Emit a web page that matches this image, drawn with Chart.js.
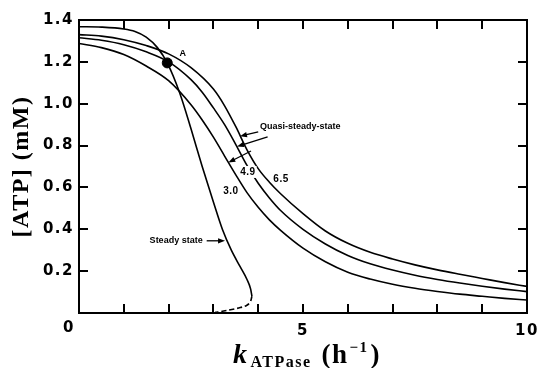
<!DOCTYPE html>
<html>
<head>
<meta charset="utf-8">
<script src="https://cdn.jsdelivr.net/npm/chart.js@4/dist/chart.umd.min.js"></script>
<style>
  html, body { margin: 0; padding: 0; background: #fff; overflow: hidden; }
  #wrap { width: 537px; height: 368px; position: relative; }
  canvas { display: block; }
</style>
</head>
<body>
<div id="wrap"><canvas id="c"></canvas></div>
<script>
// ATP concentration against ATPase rate constant
const kSteady = [0, 0.5, 1.0, 1.25, 1.5, 1.75, 1.97, 2.25, 2.5, 2.75, 3.0, 3.2, 3.4, 3.6, 3.75, 3.83, 3.86];
const atpSteady = [1.368, 1.366, 1.357, 1.345, 1.318, 1.268, 1.195, 1.05, 0.88, 0.70, 0.53, 0.40, 0.30, 0.22, 0.16, 0.115, 0.08];

// unstable branch of the steady state (dashed)
const kUnstable = [3.86, 3.82, 3.74, 3.6, 3.44, 3.2, 3.04];
const atpUnstable = [0.08, 0.052, 0.036, 0.026, 0.018, 0.008, 0.003];

const kQuasi65 = [0, 0.5, 1, 1.5, 2, 2.5, 3, 3.25, 3.5, 3.75, 4.0, 4.25, 4.5, 5, 5.5, 6, 6.5, 7, 7.5, 8, 8.5, 9, 9.5, 10];
const atpQuasi65 = [1.33, 1.323, 1.306, 1.278, 1.238, 1.172, 1.07, 0.99, 0.89, 0.78, 0.69, 0.625, 0.57, 0.475, 0.392, 0.333, 0.29, 0.258, 0.23, 0.206, 0.185, 0.165, 0.145, 0.127];

const kQuasi49 = [0, 0.5, 1, 1.5, 2, 2.5, 2.75, 3, 3.25, 3.5, 3.75, 4.0, 4.25, 4.5, 5, 5.5, 6, 6.5, 7, 7.5, 8, 8.5, 9, 9.5, 10];
const atpQuasi49 = [1.315, 1.303, 1.282, 1.248, 1.2, 1.115, 1.055, 0.98, 0.9, 0.805, 0.705, 0.62, 0.55, 0.49, 0.40, 0.33, 0.275, 0.235, 0.205, 0.18, 0.16, 0.143, 0.128, 0.114, 0.102];

const kQuasi30 = [0, 0.5, 1, 1.5, 2, 2.5, 2.75, 3, 3.25, 3.5, 3.75, 4.0, 4.25, 4.5, 5, 5.5, 6, 6.5, 7, 7.5, 8, 8.5, 9, 9.5, 10];
const atpQuasi30 = [1.288, 1.268, 1.235, 1.18, 1.11, 0.995, 0.922, 0.84, 0.75, 0.66, 0.575, 0.505, 0.445, 0.395, 0.31, 0.245, 0.195, 0.162, 0.137, 0.118, 0.103, 0.09, 0.08, 0.07, 0.062];

const pointA = { k: 1.97, atp: 1.195 };

const xLabelled = [5, 10];
const xStep = 1;
const yStep = 0.2;
const xMax = 10;
const yMax = 1.4;

const pts = (xs, ys) => xs.map((v, i) => ({ x: v, y: ys[i] }));

const curve = (data, opts) => Object.assign({
  data, showLine: true, borderColor: '#000', borderWidth: 1.6,
  pointRadius: 0, fill: false, cubicInterpolationMode: 'monotone'
}, opts || {});

const SANS = '"DejaVu Sans", sans-serif';
const NOTE = '"Liberation Sans", Arial, sans-serif';
const SERIF = '"Liberation Serif", serif';

function arrow(ctx, x1, y1, x2, y2) {
  const ang = Math.atan2(y2 - y1, x2 - x1);
  const len = 7, half = 2.6;
  ctx.beginPath();
  ctx.moveTo(x1, y1);
  ctx.lineTo(x2 - Math.cos(ang) * len * 0.8, y2 - Math.sin(ang) * len * 0.8);
  ctx.stroke();
  ctx.beginPath();
  ctx.moveTo(x2, y2);
  ctx.lineTo(x2 - Math.cos(ang) * len - Math.sin(ang) * half, y2 - Math.sin(ang) * len + Math.cos(ang) * half);
  ctx.lineTo(x2 - Math.cos(ang) * len + Math.sin(ang) * half, y2 - Math.sin(ang) * len - Math.cos(ang) * half);
  ctx.closePath();
  ctx.fill();
}

const spacing = {
  id: 'spacing',
  beforeDraw(chart) { chart.ctx.letterSpacing = '1.5px'; }
};

// frame with inward tick marks on all four sides
const frame = {
  id: 'frame',
  afterDraw(chart) {
    const ctx = chart.ctx;
    const a = chart.chartArea;
    const xs = chart.scales.x, ys = chart.scales.y;
    ctx.save();
    ctx.setLineDash([]);
    ctx.strokeStyle = '#000';
    ctx.lineWidth = 2;
    ctx.strokeRect(a.left, a.top, a.right - a.left, a.bottom - a.top);
    ctx.lineWidth = 2;
    ctx.lineCap = 'butt';
    const L = 9;
    const xv = [1, 2, 3, 4, 5, 6, 7, 8, 9];
    const yv = [0.2, 0.4, 0.6, 0.8, 1.0, 1.2];
    xv.forEach(v => {
      const px = Math.round(xs.getPixelForValue(v));
      ctx.beginPath();
      ctx.moveTo(px, a.bottom); ctx.lineTo(px, a.bottom - L);
      ctx.stroke();
      ctx.beginPath();
      ctx.moveTo(px, a.top); ctx.lineTo(px, a.top + L);
      ctx.stroke();
    });
    yv.forEach(v => {
      const py = Math.round(ys.getPixelForValue(v));
      ctx.beginPath();
      ctx.moveTo(a.left, py); ctx.lineTo(a.left + L, py);
      ctx.stroke();
      ctx.beginPath();
      ctx.moveTo(a.right, py); ctx.lineTo(a.right - L, py);
      ctx.stroke();
    });
    ctx.restore();
  }
};

const annotations = {
  id: 'annotations',
  afterDraw(chart) {
    const ctx = chart.ctx;
    const a = chart.chartArea;
    const xs = chart.scales.x, ys = chart.scales.y;
    const X = v => xs.getPixelForValue(v);
    const Y = v => ys.getPixelForValue(v);
    ctx.save();
    ctx.setLineDash([]);
    ctx.strokeStyle = '#000';
    ctx.fillStyle = '#000';

    // shared origin label
    ctx.letterSpacing = '1.5px';
    ctx.font = 'bold 15px ' + SANS;
    ctx.textAlign = 'center';
    ctx.textBaseline = 'middle';
    ctx.fillText('0', X(0) - 10, a.bottom + 15);

    // curve labels
    ctx.letterSpacing = '0.5px';
    ctx.font = 'bold 10px ' + NOTE;
    const label = (txt, kx, ky, clear) => {
      const px = X(kx), py = Y(ky);
      if (clear) {
        const w = ctx.measureText(txt).width;
        ctx.fillStyle = '#fff';
        ctx.fillRect(px - w / 2 - 1, py - 6, w + 2, 12);
        ctx.fillStyle = '#000';
      }
      ctx.fillText(txt, px, py);
    };
    label('4.9', 3.77, 0.674, true);
    label('6.5', 4.51, 0.64);
    label('3.0', 3.39, 0.58);
    ctx.font = 'bold 9px ' + NOTE;
    label('A', 2.32, 1.24);

    ctx.letterSpacing = '0px';
    ctx.font = 'bold 9px ' + NOTE;
    ctx.textAlign = 'left';
    ctx.fillText('Quasi-steady-state', X(4.04), Y(0.889));
    ctx.textAlign = 'right';
    ctx.fillText('Steady state', X(2.76), Y(0.344));

    ctx.lineWidth = 1.3;
    arrow(ctx, X(4.0), Y(0.866), X(3.594), Y(0.844));
    arrow(ctx, X(4.21), Y(0.842), X(3.527), Y(0.795));
    arrow(ctx, X(3.84), Y(0.774), X(3.333), Y(0.719));
    arrow(ctx, X(2.85), Y(0.345), X(3.26), Y(0.345));

    // x axis title with subscript and superscript
    ctx.letterSpacing = '1.5px';
    const base = a.bottom + 50;
    const parts = [
      { t: 'k', f: 'italic bold 28px ' + SERIF, dy: 0, gap: 2 },
      { t: 'ATPase', f: 'bold 16px ' + SERIF, dy: 4, gap: 10 },
      { t: '(h', f: 'bold 27px ' + SERIF, dy: 0, gap: 1 },
      { t: '\u22121', f: 'bold 15px ' + SERIF, dy: -11, gap: 2 },
      { t: ')', f: 'bold 27px ' + SERIF, dy: 0, gap: 0 }
    ];
    let total = 0;
    parts.forEach(p => { ctx.font = p.f; p.w = ctx.measureText(p.t).width; total += p.w + p.gap; });
    let cx = (a.left + a.right) / 2 + 4 - total / 2;
    ctx.textAlign = 'left';
    ctx.textBaseline = 'alphabetic';
    parts.forEach(p => { ctx.font = p.f; ctx.fillText(p.t, cx, base + p.dy); cx += p.w + p.gap; });

    ctx.restore();
  }
};

const tickFont = { family: SANS, weight: 'bold', size: 15 };

new Chart(document.getElementById('c'), {
  type: 'scatter',
  data: {
    datasets: [
      curve(pts(kSteady, atpSteady)),
      curve(pts(kUnstable, atpUnstable), { borderDash: [5, 3], cubicInterpolationMode: 'default', tension: 0.4 }),
      curve(pts(kQuasi65, atpQuasi65)),
      curve(pts(kQuasi49, atpQuasi49)),
      curve(pts(kQuasi30, atpQuasi30)),
      { data: [{ x: pointA.k, y: pointA.atp }], pointRadius: 5, pointBackgroundColor: '#000', pointBorderColor: '#000', showLine: false }
    ]
  },
  options: {
    responsive: true,
    maintainAspectRatio: false,
    animation: false,
    events: [],
    layout: { padding: { left: 0, right: 10, top: 20, bottom: 0 } },
    plugins: { legend: { display: false }, tooltip: { enabled: false } },
    scales: {
      x: {
        type: 'linear', position: 'bottom', min: 0, max: xMax,
        grid: { display: false, drawTicks: false },
        border: { display: false },
        ticks: {
          stepSize: xStep, autoSkip: false, maxRotation: 0, padding: 9,
          color: '#000', font: tickFont,
          callback: v => xLabelled.includes(v) ? String(v) : ''
        },
        afterFit: s => { s.height = 55; s.paddingLeft = 0; s.paddingRight = 0; }
      },
      y: {
        type: 'linear', position: 'left', min: 0, max: yMax,
        grid: { display: false, drawTicks: false },
        border: { display: false },
        title: { display: true, text: '[ATP] (mM)', color: '#000', font: { family: SERIF, weight: 'bold', size: 24 }, padding: { top: 7, bottom: 0 } },
        ticks: {
          stepSize: yStep, autoSkip: false, padding: 5,
          color: '#000', font: tickFont,
          callback: v => v === 0 ? '' : v.toFixed(1)
        },
        afterFit: s => { s.width = 79; s.paddingTop = 0; s.paddingBottom = 0; }
      }
    }
  },
  plugins: [spacing, frame, annotations]
});
</script>
</body>
</html>
